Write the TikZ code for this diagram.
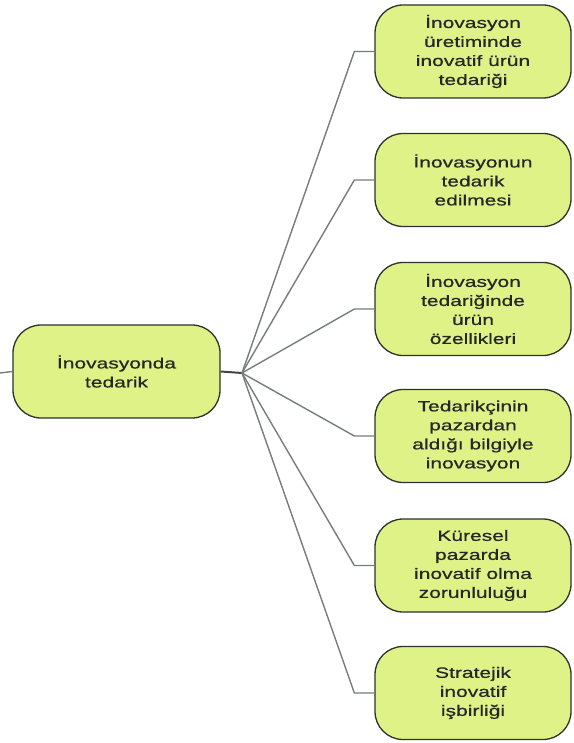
\documentclass[tikz,border=0pt]{standalone}
\usepackage{fontspec}
\setmainfont[FakeStretch=1.4,FakeBold=0.6]{Liberation Sans}
\definecolor{leaf}{RGB}{222,242,136}
\definecolor{linkgray}{RGB}{120,124,124}
\definecolor{edgedark}{RGB}{45,50,45}
\begin{document}
\begin{tikzpicture}[x=1pt,y=-1pt,
  topicbox/.style={draw=edgedark, line width=1.3pt, fill=leaf,
    rounded corners=28pt, minimum width=196pt, minimum height=93pt,
    inner sep=0pt, align=center, text=black!85,
    font=\fontsize{15}{19}\selectfont},
  link/.style={draw=linkgray, line width=1.4pt, line join=miter},
  stem/.style={draw=edgedark!90, line width=2pt}]
\useasboundingbox (0,0) rectangle (573,743);

% central topic
\node[topicbox, minimum width=207pt] (root) at (116.5,371.5) {İnovasyonda\\tedarik};
\coordinate (lt) at (0,373);
\coordinate (hub) at (242,373);

% branch topics
\node[topicbox] (c1) at (473,51.5) {İnovasyon\\üretiminde\\inovatif ürün\\tedariği};
\node[topicbox] (c2) at (473,180) {İnovasyonun\\tedarik\\edilmesi};
\node[topicbox] (c3) at (473,309) {İnovasyon\\tedariğinde\\ürün\\özellikleri};
\node[topicbox] (c4) at (473,436) {Tedarikçinin\\pazardan\\aldığı bilgiyle\\inovasyon};
\node[topicbox] (c5) at (473,565.5) {Küresel\\pazarda\\inovatif olma\\zorunluluğu};
\node[topicbox] (c6) at (473,693) {Stratejik\\inovatif\\işbirliği};

% connectors
\draw[link] (lt) -- (root.west);
\draw[stem] (root.east) -- (hub);
\foreach \c in {c1,c2,c3,c4,c5,c6}
  \draw[link] (hub) -- ([xshift=-20pt]\c.west) -- (\c.west);
\end{tikzpicture}
\end{document}
